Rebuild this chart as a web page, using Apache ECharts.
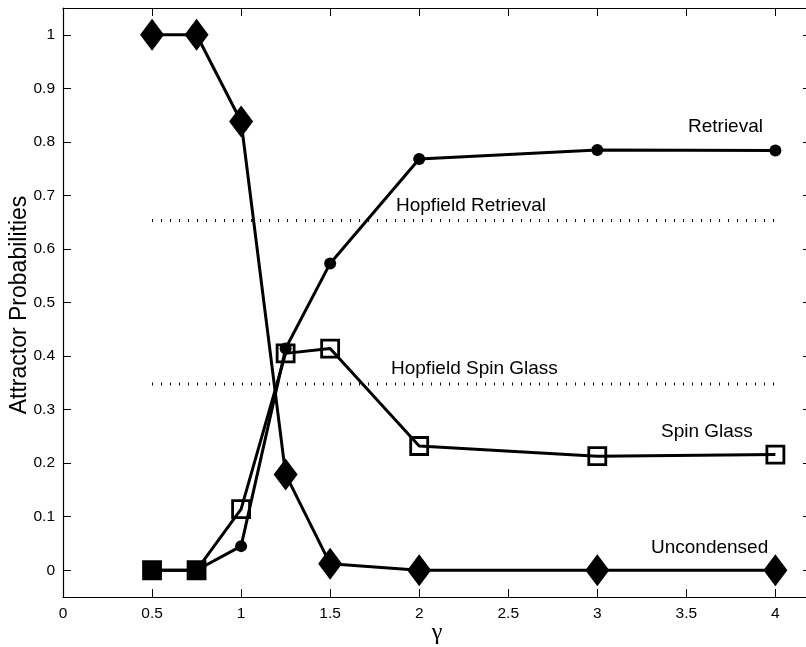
<!DOCTYPE html>
<html>
<head>
<meta charset="utf-8">
<script src="https://cdn.jsdelivr.net/npm/echarts@6/dist/echarts.min.js"></script>
<style>
  html, body { margin: 0; padding: 0; background: #fff; }
  #chart { width: 806px; height: 647px; }
</style>
</head>
<body>
<div id="chart"></div>
<script>
// gamma values sampled
const gammaValues = [0.5, 0.75, 1, 1.25, 1.5, 2, 3, 4];

// attractor probabilities per gamma
const retrieval   = [0, 0, 0.045, 0.414, 0.573, 0.768, 0.785, 0.784];
const spinGlass   = [0, 0, 0.114, 0.405, 0.414, 0.232, 0.213, 0.216];
const uncondensed = [1, 1, 0.838, 0.179, 0.012, 0, 0, 0];

// reference levels of the classical Hopfield network
const hopfieldRange = [0.5, 4];
const hopfieldRetrieval = 0.653;
const hopfieldSpinGlass = 0.348;

// axis ticks
const xTicks = [0, 0.5, 1, 1.5, 2, 2.5, 3, 3.5, 4];
const xTickLabels = ['0', '0.5', '1', '1.5', '2', '2.5', '3', '3.5', '4'];
const yTicks = [0, 0.1, 0.2, 0.3, 0.4, 0.5, 0.6, 0.7, 0.8, 0.9, 1];
const yTickLabels = ['0', '0.1', '0.2', '0.3', '0.4', '0.5', '0.6', '0.7', '0.8', '0.9', '1'];

const FONT = '"Liberation Sans", Arial, Helvetica, sans-serif';
const INK = '#000';

function pairs(xs, ys) { return xs.map((x, i) => [x, ys[i]]); }
function labelFor(values, labels) {
  return v => {
    const i = values.findIndex(t => Math.abs(t - v) < 1e-9);
    return i >= 0 ? labels[i] : '';
  };
}

const chart = echarts.init(document.getElementById('chart'), null, { renderer: 'canvas' });

const tickStyle = () => ({ show: true, inside: true, length: 8, lineStyle: { color: INK, width: 1 } });
const lineAxis = () => ({ show: true, onZero: false, lineStyle: { color: INK, width: 1.2 } });

const option = {
  backgroundColor: '#fff',
  animation: false,
  grid: { left: 63, top: 8, width: 748, height: 589, containLabel: false, outerBoundsMode: 'none' },
  xAxis: [
    {
      type: 'value', min: 0, max: 4.2, position: 'bottom',
      name: 'γ', nameLocation: 'middle', nameGap: 24, nameMoveOverlap: false,
      nameTextStyle: { fontFamily: '"Liberation Serif", "DejaVu Serif", serif', fontSize: 24, color: INK },
      axisLine: lineAxis(),
      axisTick: Object.assign({ customValues: xTicks }, tickStyle()),
      axisLabel: { customValues: xTicks, formatter: labelFor(xTicks, xTickLabels),
                   fontFamily: FONT, fontSize: 15.5, color: INK, margin: 9 },
      splitLine: { show: false }
    },
    {
      type: 'value', min: 0, max: 4.2, position: 'top',
      axisLine: lineAxis(),
      axisTick: Object.assign({ customValues: xTicks }, tickStyle()),
      axisLabel: { show: false },
      splitLine: { show: false }
    }
  ],
  yAxis: [
    {
      type: 'value', min: -0.05, max: 1.05, position: 'left',
      axisLine: lineAxis(),
      axisTick: Object.assign({ customValues: yTicks }, tickStyle()),
      axisLabel: { customValues: yTicks, formatter: labelFor(yTicks, yTickLabels),
                   fontFamily: FONT, fontSize: 15.5, color: INK, margin: 8 },
      splitLine: { show: false }
    },
    {
      type: 'value', min: -0.05, max: 1.05, position: 'right',
      axisLine: lineAxis(),
      axisTick: Object.assign({ customValues: yTicks }, tickStyle()),
      axisLabel: { show: false },
      splitLine: { show: false }
    }
  ],
  graphic: [
    // y axis title, rotated to read bottom-to-top
    { type: 'text', x: 20, y: 305, rotation: Math.PI / 2,
      style: { text: 'Attractor Probabilities', font: '23px ' + FONT, fill: INK,
               textAlign: 'center', textVerticalAlign: 'middle' } },
    { type: 'text', x: 688, y: 127, style: { text: 'Retrieval', font: '19px ' + FONT, fill: INK, textVerticalAlign: 'middle' } },
    { type: 'text', x: 396, y: 206, style: { text: 'Hopfield Retrieval', font: '19px ' + FONT, fill: INK, textVerticalAlign: 'middle' } },
    { type: 'text', x: 391, y: 369, style: { text: 'Hopfield Spin Glass', font: '19px ' + FONT, fill: INK, textVerticalAlign: 'middle' } },
    { type: 'text', x: 661, y: 432, style: { text: 'Spin Glass', font: '19px ' + FONT, fill: INK, textVerticalAlign: 'middle' } },
    { type: 'text', x: 651, y: 548, style: { text: 'Uncondensed', font: '19px ' + FONT, fill: INK, textVerticalAlign: 'middle' } }
  ],
  series: [
    {
      name: 'Hopfield Retrieval', type: 'line', symbol: 'none', silent: true,
      data: pairs(hopfieldRange, hopfieldRange.map(() => hopfieldRetrieval)),
      lineStyle: { color: INK, width: 3, type: [1, 8], cap: 'butt' }
    },
    {
      name: 'Hopfield Spin Glass', type: 'line', symbol: 'none', silent: true,
      data: pairs(hopfieldRange, hopfieldRange.map(() => hopfieldSpinGlass)),
      lineStyle: { color: INK, width: 3, type: [1, 8], cap: 'butt' }
    },
    {
      name: 'Retrieval', type: 'line', symbol: 'circle', symbolSize: 12,
      data: pairs(gammaValues, retrieval),
      lineStyle: { color: INK, width: 3 },
      itemStyle: { color: INK, borderWidth: 0 }
    },
    {
      name: 'Spin Glass', type: 'line', symbol: 'rect', symbolSize: 17,
      data: pairs(gammaValues, spinGlass).map((p, i) =>
        // the coincident zero points at low gamma render as a solid block
        i < 2 ? { value: p, itemStyle: { color: INK } } : p),
      lineStyle: { color: INK, width: 3 },
      itemStyle: { color: 'rgba(0,0,0,0)', borderColor: INK, borderWidth: 2.8 }
    },
    {
      name: 'Uncondensed', type: 'line', symbol: 'diamond', symbolSize: [24, 32],
      data: pairs(gammaValues, uncondensed),
      lineStyle: { color: INK, width: 3 },
      itemStyle: { color: INK, borderWidth: 0 }
    }
  ]
};

chart.setOption(option);
</script>
</body>
</html>
